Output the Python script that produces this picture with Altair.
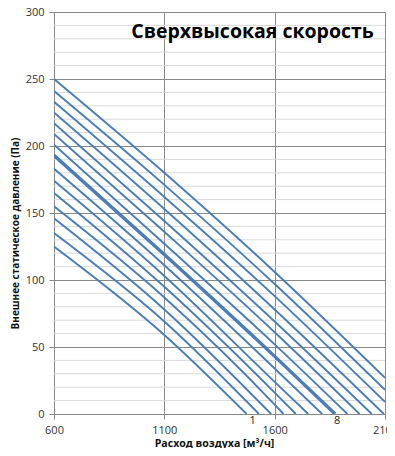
import altair as alt
import pandas as pd

# ---- data ----
series_ids = list(range(1, 16))
p_at_600 = [125, 135, 146, 155, 165, 174, 183, 193, 201, 209, 217, 225, 233, 241, 250]
p_at_1100 = [59, 69, 78, 87, 95, 103, 111, 119, 127, 136, 144, 153, 162, 171, 180]
p_at_1600 = [None, None, None, 7, 16, 24, 34, 43, 52, 61, 69, 78, 88, 97, 106]
end_q = [1473, 1529, 1584, 1640, 1696, 1752, 1815, 1874, 1930, 1985, 2040, 2095, 2100, 2100, 2100]
end_p = [0, 0, 0, 0, 0, 0, 0, 0, 0, 0, 0, 0, 9, 18, 27]

y_major = [0, 50, 100, 150, 200, 250, 300]
y_minor = [10, 20, 30, 40, 60, 70, 80, 90, 110, 120, 130, 140, 160, 170, 180, 190,
           210, 220, 230, 240, 260, 270, 280, 290]
x_ticks = [600, 1100, 1600, 2100]
labelled_series = [1, 8, 15]

title_text = "Сверхвысокая скорость"
x_title = "Расход воздуха [м³/ч]"
y_title = "Внешнее статическое давление (Па)"

# ---- build long table ----
rows = []
for i, s in enumerate(series_ids):
    pts = [(600, p_at_600[i]), (1100, p_at_1100[i])]
    if p_at_1600[i] is not None:
        pts.append((1600, p_at_1600[i]))
    pts.append((end_q[i], end_p[i]))
    for k, (q, p) in enumerate(pts):
        rows.append({"s": s, "Q": q, "P": p, "o": k})
df = pd.DataFrame(rows)

lab = pd.DataFrame({
    "s": labelled_series,
    "Q": [end_q[s - 1] for s in labelled_series],
    "P": [end_p[s - 1] for s in labelled_series],
    "t": [str(s) for s in labelled_series],
})
minor_df = pd.DataFrame({"v": y_minor})

FONT = "Open Sans"
GRID = "#8a8a8a"

xscale = alt.Scale(domain=[600, 2100], nice=False, zero=False)
yscale = alt.Scale(domain=[0, 300], nice=False)

minor = alt.Chart(minor_df).mark_rule(color="#d9d9d9", strokeWidth=1).encode(
    y=alt.Y("v:Q", scale=yscale)
)

lines = alt.Chart(df).mark_line(color="#4a7ebb", interpolate="monotone", clip=True).encode(
    x=alt.X("Q:Q", scale=xscale,
            axis=alt.Axis(values=x_ticks, format="d", grid=True, gridColor=GRID,
                          domainColor=GRID, tickColor=GRID, tickSize=5, labelPadding=5,
                          labelFont=FONT, labelFontSize=11, labelColor="#333333",
                          labelFlush=False,
                          title=x_title, titleFont=FONT, titleFontSize=10.6,
                          titleFontWeight="bold", titleColor="#111111",
                          titleX=160, titleY=32, titleAlign="center",
                          titleBaseline="alphabetic")),
    y=alt.Y("P:Q", scale=yscale,
            axis=alt.Axis(values=y_major, grid=True, gridColor=GRID, domainColor=GRID,
                          tickColor=GRID, tickSize=5, labelPadding=5, labelFont=FONT,
                          labelFontSize=11, labelColor="#333333", labelFlush=False,
                          title=y_title, titleFont=FONT, titleFontSize=10,
                          titleFontWeight="bold", titleColor="#111111",
                          titleAngle=270, titleX=-36, titleY=221, titleAlign="center",
                          titleBaseline="alphabetic")),
    detail="s:N",
    order="o:Q",
    strokeWidth=alt.condition(alt.datum.s == 8, alt.value(3.4), alt.value(1.9)),
)

lab_bottom = alt.Chart(lab).transform_filter(alt.datum.P == 0)
lab1 = lab_bottom.transform_filter(alt.datum.s == 1).mark_text(
    font=FONT, fontSize=11, color="#222222", baseline="middle", align="center", dx=6, dy=7
).encode(x=alt.X("Q:Q", scale=xscale), y=alt.Y("P:Q", scale=yscale), text="t:N")
lab8 = lab_bottom.transform_filter(alt.datum.s == 8).mark_text(
    font=FONT, fontSize=11, color="#222222", baseline="middle", align="center", dx=2, dy=7
).encode(x=alt.X("Q:Q", scale=xscale), y=alt.Y("P:Q", scale=yscale), text="t:N")
lab15 = alt.Chart(lab).transform_filter(alt.datum.s == 15).mark_text(
    font=FONT, fontSize=11, color="#222222", baseline="middle", align="left", dx=2, dy=5
).encode(x=alt.X("Q:Q", scale=xscale), y=alt.Y("P:Q", scale=yscale), text="t:N")

chart = alt.layer(minor, lines, lab1, lab8, lab15).properties(
    width=331,
    height=402,
    autosize=alt.AutoSizeParams(type="none"),
    padding={"left": 46, "top": 4, "right": 2, "bottom": 34},
    title=alt.TitleParams(text=title_text, anchor="middle", frame="group", orient="top",
                          offset=0, dx=33, dy=51, baseline="alphabetic", font=FONT,
                          fontSize=19.5, fontWeight="bold", color="#000000"),
).configure_view(stroke=None).configure(background="white")

chart.save("out.html", embed_options={"renderer": "svg", "actions": False})
